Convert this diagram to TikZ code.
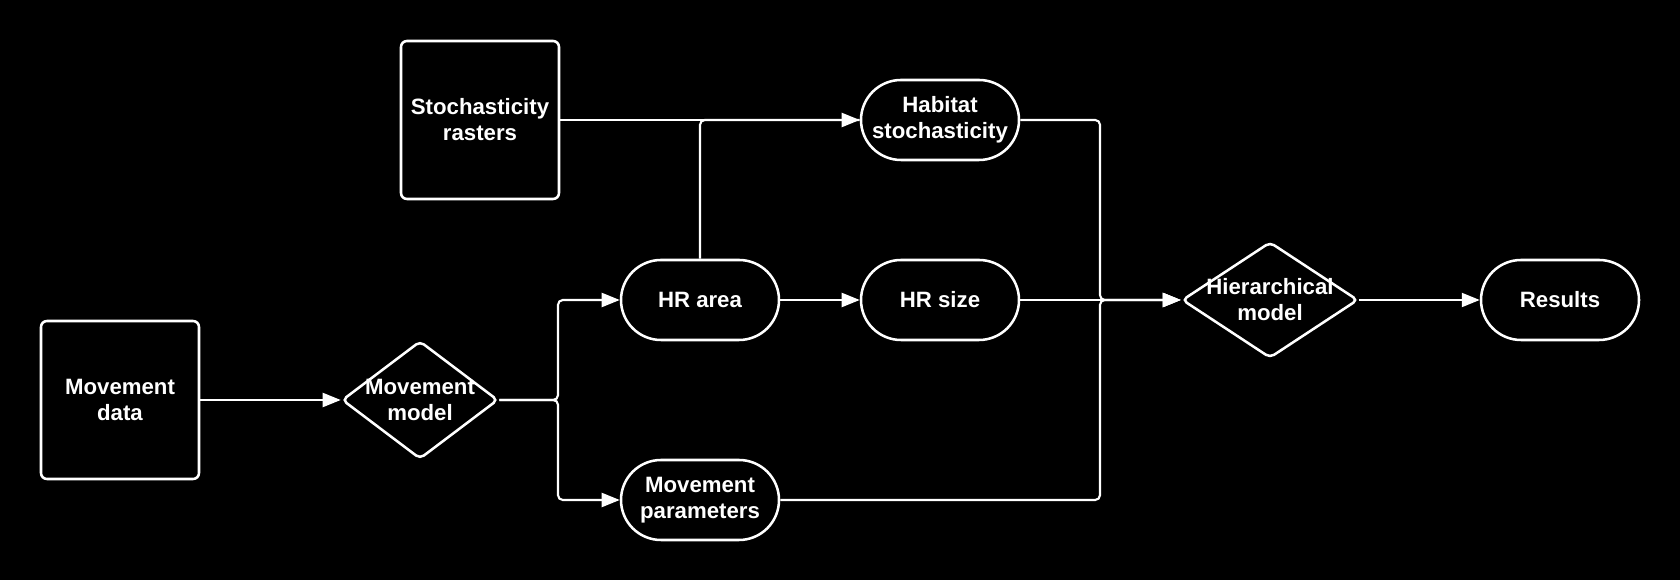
\documentclass[tikz,border=0pt]{standalone}
\usepackage{fontspec}
\setmainfont{Liberation Sans}
\usetikzlibrary{shapes.geometric,arrows.meta}

\begin{document}
\begin{tikzpicture}[
	every node/.style={text=white,font=\bfseries\fontsize{15.8pt}{18.5pt}\selectfont,align=center},
	box/.style={draw=white,line width=1.8pt,rounded corners=0.15cm,minimum width=3.95cm,minimum height=3.95cm},
	pill/.style={draw=white,line width=1.8pt,rounded corners=1cm,minimum width=3.95cm,minimum height=2cm},
	choice/.style={draw=white,line width=1.8pt,diamond,rounded corners=0.12cm,inner sep=0pt},
	link/.style={white,line width=1.5pt,rounded corners=0.12cm},
	arr/.style={link,-{Triangle[length=0.45cm,width=0.35cm]}}]
	\fill [black] (0,0) rectangle (42,14.5);
	\useasboundingbox (0,0) rectangle (42,14.5);
	\node[box] (mdata) at (3,4.5) {Movement\\data};
	\node[box] (raster) at (12,11.5) {Stochasticity\\rasters};
	\node[choice,minimum width=3.9cm,minimum height=2.95cm,label={center:Movement\\model}] (mmodel) at (10.5,4.5) {};
	\node[pill] (hrarea) at (17.5,7) {HR area};
	\node[pill] (mparam) at (17.5,2) {Movement\\parameters};
	\node[pill] (habitat) at (23.5,11.5) {Habitat\\stochasticity};
	\node[pill] (hrsize) at (23.5,7) {HR size};
	\node[choice,minimum width=4.4cm,minimum height=2.9cm,label={center:Hierarchical\\model}] (hier) at (31.75,7) {};
	\node[pill] (results) at (39,7) {Results};
	\coordinate (split) at (13.95,4.5);
	\coordinate (merge) at (27.5,7);
	\draw [arr] (mdata) -- (mmodel);
	\draw [arr] (mmodel.east) -- (split) |- (hrarea.west);
	\draw [arr] (mmodel.east) -- (split) |- (mparam.west);
	\draw [arr] (raster.east |- habitat.west) -- (habitat.west);
	\draw [link] (hrarea.north) |- (habitat.west);
	\draw [arr] (hrarea) -- (hrsize);
	\draw [arr] (habitat.east) -| (merge) -- (hier.west);
	\draw [arr] (mparam.east) -| (merge) -- (hier.west);
	\draw [arr] (hrsize) -- (hier);
	\draw [arr] (hier) -- (results);
\end{tikzpicture}
\end{document}
